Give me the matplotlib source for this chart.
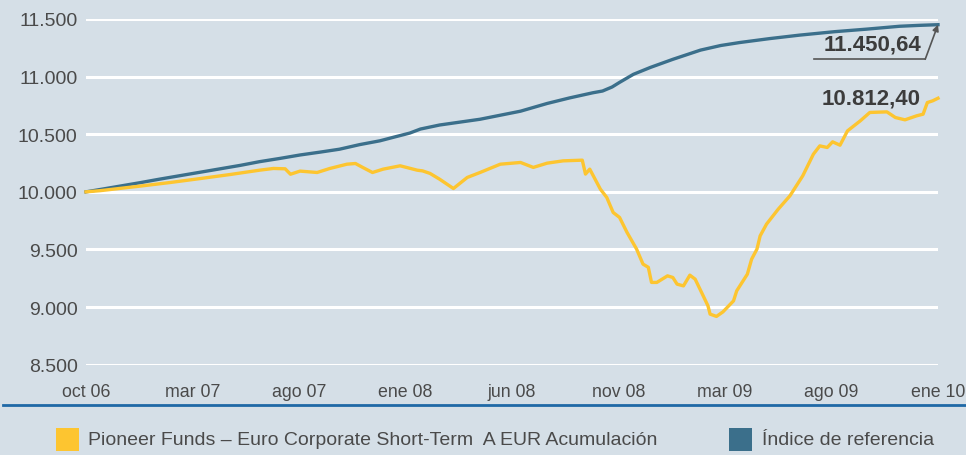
import matplotlib
matplotlib.use("Agg")
import matplotlib.pyplot as plt
from matplotlib.patches import Rectangle
from matplotlib.lines import Line2D
from matplotlib.ticker import FuncFormatter

plt.rcParams['font.family'] = ['Liberation Sans', 'DejaVu Sans']

# Eje X: posiciones en unidades de etiqueta (0 = oct 06, 8 = ene 10)
etiquetas_x = ["oct 06", "mar 07", "ago 07", "ene 08", "jun 08", "nov 08", "mar 09", "ago 09", "ene 10"]

# Fondo (amarillo)
t_fondo = [0.00, 0.13, 0.32, 0.51, 0.79, 1.07, 1.35, 1.63, 1.76, 1.87, 1.92, 2.01, 2.17, 2.29,
           2.45, 2.53, 2.60, 2.69, 2.79, 2.95, 3.11, 3.16, 3.23, 3.32, 3.45, 3.58, 3.70, 3.89,
           4.08, 4.20, 4.33, 4.48, 4.66, 4.69, 4.73, 4.83, 4.89, 4.95, 5.01, 5.08, 5.17, 5.23,
           5.28, 5.31, 5.36, 5.46, 5.51, 5.55, 5.61, 5.67, 5.72, 5.78, 5.84, 5.86, 5.92, 5.98,
           6.08, 6.11, 6.21, 6.25, 6.30, 6.33, 6.39, 6.50, 6.61, 6.73, 6.83, 6.89, 6.96, 7.01,
           7.08, 7.15, 7.27, 7.36, 7.52, 7.60, 7.69, 7.80, 7.86, 7.90, 7.95, 8.00]
v_fondo = [10000, 10010, 10030, 10050, 10081, 10115, 10150, 10188, 10203, 10200, 10153, 10180,
           10168, 10203, 10240, 10246, 10211, 10168, 10197, 10226, 10188, 10182, 10160, 10110,
           10029, 10125, 10168, 10240, 10255, 10212, 10249, 10269, 10275, 10154, 10197, 10023,
           9951, 9821, 9778, 9648, 9503, 9373, 9345, 9214, 9214, 9271, 9257, 9199, 9184, 9277,
           9242, 9127, 9011, 8939, 8919, 8958, 9054, 9141, 9286, 9416, 9503, 9618, 9720, 9850,
           9966, 10139, 10327, 10399, 10385, 10434, 10405, 10529, 10616, 10689, 10694, 10645,
           10625, 10660, 10674, 10775, 10790, 10812.40]

# Índice de referencia (azul)
t_indice = [0.00, 0.13, 0.32, 0.51, 0.69, 0.88, 1.07, 1.26, 1.45, 1.63, 1.82, 2.01, 2.20, 2.38,
            2.57, 2.76, 2.88, 3.04, 3.14, 3.32, 3.51, 3.70, 3.89, 4.08, 4.33, 4.54, 4.76, 4.85,
            4.94, 5.01, 5.14, 5.30, 5.51, 5.77, 5.96, 6.14, 6.42, 6.70, 7.03, 7.33, 7.64, 7.83, 8.00]
v_indice = [10000, 10020, 10050, 10080, 10110, 10140, 10170, 10200, 10230, 10262, 10290, 10320,
            10345, 10370, 10410, 10443, 10472, 10510, 10545, 10580, 10605, 10630, 10665, 10700,
            10767, 10815, 10860, 10875, 10910, 10950, 11020, 11080, 11150, 11230, 11270, 11296,
            11330, 11360, 11390, 11412, 11437, 11445, 11450.64]

color_fondo = "#fdc530"
color_indice = "#3b6f8b"
color_bg = "#d5dfe7"
color_texto = "#4a4a4a"


def es_num(v, dec=0):
    s = f"{v:,.{dec}f}"
    return s.replace(",", "X").replace(".", ",").replace("X", ".")


fig = plt.figure(figsize=(9.66, 4.56), dpi=100, facecolor=color_bg)
ax = fig.add_axes([86 / 966, 1 - 365.7 / 456, (938 - 86) / 966, (365.7 - 20) / 456])
ax.set_facecolor(color_bg)

ax.set_xlim(0, 8)
ax.set_ylim(8500, 11500)
ax.set_yticks(range(8500, 11501, 500))
ax.yaxis.set_major_formatter(FuncFormatter(lambda v, p: es_num(v)))
ax.set_xticks(range(len(etiquetas_x)))
ax.set_xticklabels(etiquetas_x)
ax.tick_params(axis="both", length=0, labelcolor=color_texto)
ax.tick_params(axis="y", pad=6, labelsize=14)
ax.tick_params(axis="x", pad=13, labelsize=12.8)
ax.grid(True, axis="y", color="white", linewidth=2.2)
ax.set_axisbelow(True)
for s in ax.spines.values():
    s.set_visible(False)

ax.plot(t_indice, v_indice, color=color_indice, linewidth=2.4, clip_on=False, zorder=3)
ax.plot(t_fondo, v_fondo, color=color_fondo, linewidth=2.4, clip_on=False, zorder=4)

# Etiquetas de valor final
ult_i = v_indice[-1]
ult_f = v_fondo[-1]
ax.text(7.84, ult_f, es_num(ult_f, 2), ha="right", va="center", fontsize=16,
        fontweight="bold", color="#3c3c3c", zorder=5)
ax.text(7.84, ult_i - 170, es_num(ult_i, 2), ha="right", va="center", fontsize=16,
        fontweight="bold", color="#3c3c3c", zorder=5)
ax.plot([6.84, 7.88], [ult_i - 300, ult_i - 300], color="#555555", linewidth=1.2, zorder=5)
ax.annotate("", xy=(t_indice[-1], ult_i), xytext=(7.88, ult_i - 300),
            arrowprops=dict(arrowstyle="-|>", color="#555555", lw=1.2, mutation_scale=9,
                            shrinkA=0, shrinkB=0), zorder=5)

# Línea azul bajo el eje
fig.add_artist(Line2D([3 / 966, 1], [1 - 405.7 / 456] * 2, color="#1f69a6", linewidth=2))

# Leyenda
fig.add_artist(Rectangle((56 / 966, 1 - 452 / 456), 23 / 966, 23 / 456,
                         facecolor=color_fondo, edgecolor="none"))
fig.text(88 / 966, 1 - 441 / 456, "Pioneer Funds \u2013 Euro Corporate Short-Term  A EUR Acumulación",
         fontsize=14, color=color_texto, va="center", ha="left")
fig.add_artist(Rectangle((729 / 966, 1 - 452 / 456), 23 / 966, 23 / 456,
                         facecolor=color_indice, edgecolor="none"))
fig.text(762 / 966, 1 - 441 / 456, "Índice de referencia",
         fontsize=14, color=color_texto, va="center", ha="left")

fig.savefig("out.png", dpi=100, facecolor=color_bg)
